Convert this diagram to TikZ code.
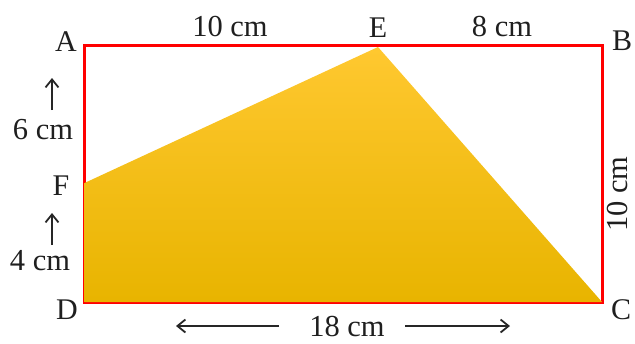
\documentclass[tikz,border=0pt]{standalone}
\usepackage{fontspec}
\setmainfont{Liberation Serif}
\usetikzlibrary{arrows.meta}
\begin{document}
\begin{tikzpicture}[x=1pt,y=-1pt,
  lbl/.style={font=\fontsize{30}{32}\selectfont, inner sep=0pt, text=black!88},
  dim/.style={font=\fontsize{30.5}{32}\selectfont, inner sep=0pt, text=black!88},
  edge/.style={draw=red, line width=3pt},
  dimarrow/.style={-{Straight Barb[length=8pt,width=13pt,line width=1.8pt]}, line width=1.8pt, black!85}]
\useasboundingbox (0,0) rectangle (635,343);
\coordinate (A) at (84.5,45);
\coordinate (B) at (602,45);
\coordinate (C) at (602,302);
\coordinate (D) at (84.5,302);
\coordinate (E) at (378,47);
\coordinate (F) at (84.5,183);
% rectangle
\draw[edge] (A) -- (B) -- (C) -- (D) -- cycle;
% shaded region
\shade[top color={rgb,255:red,255;green,200;blue,48}, middle color={rgb,255:red,255;green,197;blue,0}, bottom color={rgb,255:red,232;green,180;blue,0}]
  (F) -- (E) -- (C) -- (D) -- cycle;
% corner labels
\node[lbl] (lA) at (66,42) {A};
\node[lbl] (lB) at (622,41) {B};
\node[lbl] (lC) at (621,310) {C};
\node[lbl] (lD) at (67,310) {D};
\node[lbl] (lE) at (378,28) {E};
\node[lbl] (lF) at (61,186) {F};
% dimension labels
\node[dim] (t10) at (230,27) {10 cm};
\node[dim] (t8) at (502,27) {8 cm};
\node[dim] (t6) at (43,130) {6 cm};
\node[dim] (t4) at (40,261) {4 cm};
\node[dim, rotate=90] (t10r) at (618,194) {10 cm};
\node[dim] (t18) at (347,326.5) {18 cm};
% arrows
\coordinate (a6s) at (52,110);
\coordinate (a6e) at (52,78);
\coordinate (a4s) at (52,245);
\coordinate (a4e) at (52,213);
\coordinate (b1s) at (279,326);
\coordinate (b1e) at (176,326);
\coordinate (b2s) at (405,326);
\coordinate (b2e) at (510,326);
\draw[dimarrow] (a6s) -- (a6e);
\draw[dimarrow] (a4s) -- (a4e);
\draw[dimarrow] (b1s) -- (b1e);
\draw[dimarrow] (b2s) -- (b2e);
\end{tikzpicture}
\end{document}
